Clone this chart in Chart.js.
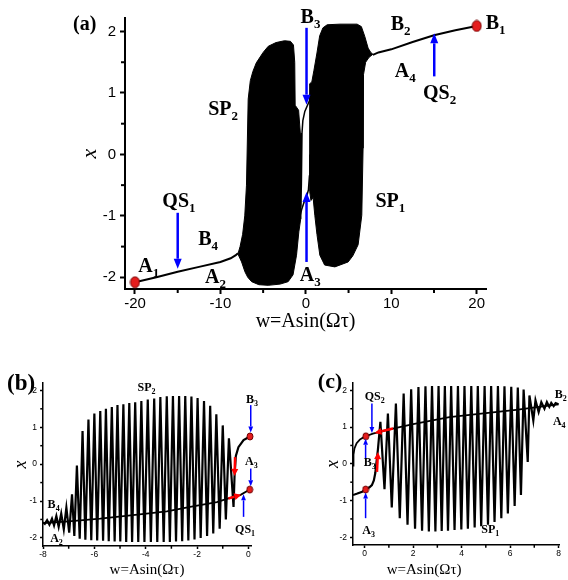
<!DOCTYPE html>
<html><head><meta charset="utf-8">
<script src="https://cdn.jsdelivr.net/npm/chart.js@4.4.1/dist/chart.umd.min.js"></script>
<style>
html,body{margin:0;padding:0;background:#fff;width:568px;height:580px;overflow:hidden}
canvas{position:absolute}
#ca{left:0;top:0}
#cb{left:0;top:340px}
#cc{left:284px;top:340px}
</style></head><body>
<canvas id="ca" width="568" height="340"></canvas>
<canvas id="cb" width="284" height="240"></canvas>
<canvas id="cc" width="284" height="240"></canvas>
<script>
// ---- panel (a): full sweep, w in [-20,20]
const aLowX=[-20,-17.5,-15,-12.5,-10,-8.8,-8.2,-7.95];
const aLowY=[-2.08,-2.0,-1.91,-1.83,-1.75,-1.69,-1.64,-1.61];
const aHighX=[7.85,8.5,10,12.5,15,17.5,20];
const aHighY=[1.62,1.66,1.71,1.83,1.94,2.02,2.09];
const aBackX=[0.74,0.47,-0.12,-0.35,-0.45,-0.5,-0.55,-0.6];
const aBackY=[1.16,0.89,0.70,0.55,0.35,0.0,-0.5,-0.85];
const aFwdX=[-0.85,-0.5,-0.12,0.1,0.3,0.42,0.48];
const aFwdY=[-1.1,-0.9,-0.74,-0.68,-0.58,-0.35,0.0];
// envelopes of the dense oscillation bands SP2 / SP1 (outline)
const sp2X=[-7.95,-7.7,-7.4,-7.15,-6.95,-6.75,-6.5,-6.2,-5.8,-5.0,-4.4,-3.5,-2.5,-1.8,-1.45,-1.3,-1.25,-0.85,-0.62,-0.6,-0.82,-1.09,-1.5,-2.07,-3.0,-4.41,-5.5,-6.35,-6.8,-7.13,-7.52,-7.95];
const sp2Y=[-1.62,-1.5,-1.3,-1.0,-0.5,0.9,1.2,1.35,1.49,1.66,1.76,1.82,1.85,1.84,1.78,1.5,0.8,0.72,0.3,-1.05,-1.26,-1.64,-1.96,-2.07,-2.11,-2.13,-2.12,-2.07,-2.0,-1.91,-1.75,-1.62];
const sp1X=[0.45,0.45,0.7,0.95,1.3,1.62,2.0,2.5,4.0,6.0,6.5,6.9,7.29,7.6,7.85,7.4,7.0,6.75,6.7,6.55,6.12,5.5,4.95,3.4,2.2,1.64,1.3,1.05,0.85,0.6,0.45];
const sp1Y=[-0.6,1.15,1.18,1.37,1.65,1.93,2.06,2.11,2.12,2.12,2.08,1.92,1.73,1.66,1.63,1.58,1.5,1.3,0.1,-0.99,-1.47,-1.65,-1.75,-1.83,-1.8,-1.64,-1.3,-0.99,-0.7,-0.75,-0.6];
const aEndX=[-20,20], aEndY=[-2.08,2.09];
const aTicksX=[-20,-10,0,10,20], aMinorX=[-15,-5,5,15];
const aTicksY=[-2,-1,0,1,2], aMinorY=[-1.5,-0.5,0.5,1.5];

// ---- panel (b): backward sweep from B3
const bCurveX=[0.06,-0.19,-0.39,-0.49,-0.54];
const bCurveY=[0.75,0.65,0.46,0.22,-0.30];
const bTroughX=[-0.58,-0.88,-1.12,-1.37,-1.61,-1.86,-2.10,-2.34,-2.58,-2.82,-3.06,-3.30,-3.55,-3.80,-4.05,-4.29,-4.53,-4.76,-4.99,-5.21,-5.44,-5.66,-5.89,-6.12,-6.35,-6.57,-6.78,-6.98,-7.19,-7.39,-7.57,-7.75,-7.93];
const bTroughY=[-1.16,-1.50,-1.75,-1.88,-1.95,-2.00,-2.04,-2.07,-2.09,-2.10,-2.11,-2.11,-2.11,-2.11,-2.11,-2.11,-2.11,-2.11,-2.10,-2.10,-2.09,-2.08,-2.07,-2.06,-2.05,-2.02,-1.95,-1.86,-1.77,-1.70,-1.66,-1.64,-1.62];
const bPeakX=[-0.76,-1.0,-1.25,-1.49,-1.73,-1.98,-2.22,-2.46,-2.70,-2.94,-3.18,-3.43,-3.67,-3.92,-4.17,-4.41,-4.64,-4.87,-5.10,-5.32,-5.55,-5.77,-6.0,-6.23,-6.46,-6.68,-6.87,-7.09,-7.29,-7.48,-7.65,-7.84];
const bPeakY=[0.70,1.05,1.35,1.58,1.71,1.79,1.83,1.85,1.85,1.85,1.84,1.82,1.78,1.75,1.71,1.68,1.66,1.62,1.60,1.55,1.50,1.44,1.37,1.21,0.90,-0.04,-0.82,-1.18,-1.34,-1.41,-1.48,-1.52];
const bEndX=[-8.0], bEndY=[-1.58];
const bLineX=[-8,-7,-5.77,-4.5,-3.18,-2.27,-1.23,-0.78,-0.32,0.05];
const bLineY=[-1.60,-1.55,-1.48,-1.38,-1.28,-1.16,-1.03,-0.93,-0.84,-0.69];
const bDotX=[0.06,0.05], bDotY=[0.75,-0.69];
const bTicksX=[-8,-6,-4,-2,0], bMinorX=[-7,-5,-3,-1];

// ---- panel (c): forward sweep from A3
const cCurveX=[-0.48,-0.3,-0.1,0.04,0.2,0.3,0.38,0.44,0.49,0.55];
const cCurveY=[-0.85,-0.81,-0.76,-0.70,-0.64,-0.58,-0.45,-0.25,0.05,0.40];
const cPeakX=[0.65,0.96,1.29,1.61,1.92,2.22,2.51,2.78,3.05,3.31,3.57,3.85,4.12,4.40,4.67,4.95,5.22,5.50,5.77,6.05,6.32,6.56,6.80,7.05,7.29,7.52,7.70,7.88];
const cPeakY=[1.14,1.37,1.64,1.91,2.03,2.09,2.11,2.12,2.12,2.12,2.12,2.12,2.12,2.12,2.12,2.12,2.12,2.12,2.11,2.10,2.08,2.02,1.86,1.73,1.68,1.68,1.66,1.65];
const cTroughX=[0.82,1.12,1.45,1.77,2.08,2.37,2.65,2.92,3.18,3.44,3.71,3.99,4.26,4.54,4.81,5.09,5.36,5.64,5.91,6.19,6.45,6.73,6.96,7.18,7.42,7.62,7.80];
const cTroughY=[-0.69,-1.19,-1.48,-1.66,-1.77,-1.82,-1.84,-1.84,-1.83,-1.82,-1.80,-1.79,-1.77,-1.73,-1.70,-1.66,-1.58,-1.48,-1.35,-1.15,-0.85,0.05,1.18,1.41,1.50,1.55,1.57];
const cEndX=[8.0], cEndY=[1.62];
const cLineX=[-0.48,-0.46,-0.42,-0.33,-0.2,-0.05,0.05,0.34,1.17,2.0,3.5,5.0,6.25,7.2,8.0];
const cLineY=[-0.05,0.25,0.42,0.56,0.66,0.72,0.75,0.82,0.96,1.08,1.27,1.38,1.47,1.55,1.62];
const cDotX=[0.05,0.04], cDotY=[0.75,-0.70];
const cTicksX=[0,2,4,6,8], cMinorX=[1,3,5,7];
const bcTicksY=[-2,-1,0,1,2], bcMinorY=[-1.5,-0.5,0.5,1.5];

// annotations: [x, y, text, subscript, size]
const labelsA=[[-27.25,2.03,'(a)','',20],[21.05,2.04,'B','1'],[9.94,2.02,'B','2'],[-0.62,2.14,'B','3'],[10.41,1.26,'A','4'],[13.72,0.90,'QS','2'],[-11.43,0.64,'SP','2'],[8.15,-0.86,'SP','1'],[-16.8,-0.85,'QS','1'],[-12.6,-1.47,'B','4'],[-19.61,-1.91,'A','1'],[-11.81,-2.09,'A','2'],[-0.70,-2.06,'A','3']];
const labelsB=[[-9.4,2.0,'(b)','',23],[-4.32,1.97,'SP','2'],[-0.09,1.66,'B','3'],[-0.13,-0.03,'A','3'],[-0.52,-1.87,'QS','1'],[-7.82,-1.2,'B','4'],[-7.72,-2.11,'A','2']];
const labelsC=[[-1.93,2.07,'(c)','',22],[0,1.75,'QS','2'],[-0.04,-0.06,'B','3'],[-0.1,-1.92,'A','3'],[7.84,1.79,'B','2'],[7.77,1.07,'A','4'],[4.81,-1.87,'SP','1']];
// arrows: [x1, y1, x2 (tip), y2 (tip), colour]
const arrowsA=[[-15,-0.95,-15,-1.86,'#0000ff'],[0.08,2.06,0.08,0.81,'#0000ff'],[0.08,-1.75,0.08,-0.61,'#0000ff'],[15.03,1.27,15.03,1.97,'#0000ff']];
const arrowsB=[[0.09,1.6,0.09,0.86,'#0000ff'],[0.09,-0.12,0.09,-0.6,'#0000ff'],[-0.19,-1.43,-0.19,-0.82,'#0000ff'],[-0.52,0.19,-0.54,-0.32,'#ff0000'],[-0.78,-0.93,-0.28,-0.83,'#ff0000']];
const arrowsC=[[0.3,1.64,0.3,0.84,'#0000ff'],[0.04,0.15,0.04,0.68,'#0000ff'],[0.04,-1.48,0.04,-0.78,'#0000ff'],[0.51,-0.22,0.55,0.32,'#ff0000'],[1.17,0.96,0.41,0.84,'#ff0000']];

const pts=(xs,ys)=>xs.map((x,i)=>({x:x,y:ys[i]}));
function interleave(a,b){
  let out=[];
  for(let i=0;i<Math.max(a.length,b.length);++i){ if(i<a.length) out.push(a[i]); if(i<b.length) out.push(b[i]); }
  return out;
}
function dotImg(w,h){
  let c=document.createElement('canvas'); c.width=w+2; c.height=h+2;
  let g=c.getContext('2d');
  g.beginPath(); g.ellipse((w+2)/2,(h+2)/2,w/2,h/2,0,0,Math.PI*2);
  g.fillStyle='#e51d1d'; g.fill(); g.lineWidth=1; g.strokeStyle='#700000'; g.stroke();
  return c;
}
function arrow(ctx,x1,y1,x2,y2,color,w,head,hw){
  const ang=Math.atan2(y2-y1,x2-x1);
  const bx=x2-head*Math.cos(ang), by=y2-head*Math.sin(ang);
  ctx.strokeStyle=color; ctx.lineWidth=w;
  ctx.beginPath(); ctx.moveTo(x1,y1); ctx.lineTo(bx,by); ctx.stroke();
  ctx.fillStyle=color; ctx.beginPath(); ctx.moveTo(x2,y2);
  ctx.lineTo(bx+hw*Math.sin(ang),by-hw*Math.cos(ang));
  ctx.lineTo(bx-hw*Math.sin(ang),by+hw*Math.cos(ang));
  ctx.closePath(); ctx.fill();
}

// minor ticks, arrows and text labels
const decor={
  id:'decor',
  afterDraw(chart,args,o){
    const ctx=chart.ctx, sx=chart.scales.x, sy=chart.scales.y, a=chart.chartArea;
    ctx.save();
    ctx.strokeStyle='#000'; ctx.lineWidth=o.tickWidth;
    o.minorX.forEach(v=>{ let p=sx.getPixelForValue(v); ctx.beginPath(); ctx.moveTo(p,a.bottom); ctx.lineTo(p,a.bottom+o.minorLen+o.axisWidth/2); ctx.stroke(); });
    o.minorY.forEach(v=>{ let p=sy.getPixelForValue(v); ctx.beginPath(); ctx.moveTo(a.left,p); ctx.lineTo(a.left-o.minorLen-o.axisWidth/2,p); ctx.stroke(); });
    o.arrows.forEach(r=>{
      let red=r[4]!='#0000ff';
      arrow(ctx,sx.getPixelForValue(r[0]),sy.getPixelForValue(r[1]),sx.getPixelForValue(r[2]),sy.getPixelForValue(r[3]),r[4],
        red?o.redWidth:o.arrowWidth,red?o.redHead:o.arrowHead,red?o.redHead/2:o.arrowHead*0.4);
    });
    ctx.fillStyle='#000'; ctx.textBaseline='alphabetic'; ctx.textAlign='left';
    o.labels.forEach(l=>{
      let px=sx.getPixelForValue(l[0]), py=sy.getPixelForValue(l[1]);
      ctx.font='bold '+(l[4]||o.size)+'px "Liberation Serif"';
      ctx.fillText(l[2],px,py);
      if(l[3]){ let w=ctx.measureText(l[2]).width; ctx.font='bold '+o.subSize+'px "Liberation Serif"'; ctx.fillText(l[3],px+w,py+o.subDy); }
    });
    ctx.restore();
  }
};

function xScale(min,max,ticks,h,fs,tl,tw,bw,title,tfs,tpad){
  return {type:'linear',min:min,max:max,
    afterBuildTicks:s=>{s.ticks=ticks.map(v=>({value:v}));},
    afterFit:s=>{s.height=h;},
    grid:{drawOnChartArea:false,tickLength:tl,tickWidth:tw,tickColor:'#000'},
    border:{color:'#000',width:bw},
    ticks:{color:'#000',font:{family:'Liberation Sans',size:fs},padding:1,maxRotation:0,autoSkip:false},
    title:{display:true,text:title,color:'#000',font:{family:'Liberation Serif',size:tfs,lineHeight:1},padding:{top:0,bottom:tpad}}};
}
function yScale(min,max,ticks,w,fs,tl,tw,bw,tfs,tpad,lpad){
  return {type:'linear',min:min,max:max,
    afterBuildTicks:s=>{s.ticks=ticks.map(v=>({value:v}));},
    afterFit:s=>{s.width=w;},
    grid:{drawOnChartArea:false,tickLength:tl,tickWidth:tw,tickColor:'#000'},
    border:{color:'#000',width:bw},
    ticks:{color:'#000',font:{family:'Liberation Sans',size:fs},padding:lpad,autoSkip:false},
    title:{display:true,text:'x',color:'#000',font:{family:'Liberation Serif',style:'italic',size:tfs,lineHeight:1},padding:{top:tpad,bottom:0}}};
}
const line=(data,w,order)=>({data:data,borderColor:'#000',borderWidth:w,pointRadius:0,fill:false,tension:0,order:order});
const dots=(data,img)=>({data:data,showLine:false,pointStyle:img,pointRadius:5,clip:false,order:0});

Chart.defaults.animation=false;

new Chart(document.getElementById('ca'),{
  type:'line',
  data:{datasets:[
    dots(pts(aEndX,aEndY),dotImg(9,11)),
    line(pts(aLowX,aLowY),2,1),
    line(pts(aHighX,aHighY),2,1),
    line(pts(aBackX,aBackY),1.5,1),
    line(pts(aFwdX,aFwdY),1.5,1),
    {data:pts(sp2X,sp2Y),borderColor:'#000',backgroundColor:'#000',borderWidth:1,pointRadius:0,fill:'shape',tension:0,order:2},
    {data:pts(sp1X,sp1Y),borderColor:'#000',backgroundColor:'#000',borderWidth:1,pointRadius:0,fill:'shape',tension:0,order:2}
  ]},
  options:{responsive:false,
    layout:{padding:{left:0,right:82,top:18,bottom:0}},
    scales:{x:xScale(-21.17,21.09,aTicksX,51,15,5,2,2,'w=Asin(\u03a9\u03c4)',20,8),
            y:yScale(-2.19,2.22,aTicksY,125,15,5,2,2,22,79,4)},
    plugins:{legend:{display:false},tooltip:{enabled:false},
      decor:{minorX:aMinorX,minorY:aMinorY,minorLen:3,tickWidth:2,axisWidth:2,arrows:arrowsA,arrowWidth:2.5,arrowHead:10,redWidth:2.5,redHead:8,labels:labelsA,size:20,subSize:13,subDy:5}}
  },
  plugins:[decor]
});

new Chart(document.getElementById('cb'),{
  type:'line',
  data:{datasets:[
    dots(pts(bDotX,bDotY),dotImg(6,7)),
    line(pts(bLineX,bLineY),1.8,1),
    line(pts(bCurveX,bCurveY).concat(interleave(pts(bTroughX,bTroughY),pts(bPeakX,bPeakY)),pts(bEndX,bEndY)),2.2,2)
  ]},
  options:{responsive:false,
    layout:{padding:{left:0,right:33,top:43,bottom:0}},
    scales:{x:xScale(-8,0.1,bTicksX,34,8.5,3,1.5,1.5,'w=Asin(\u03a9\u03c4)',15,2.5),
            y:yScale(-2.22,2.2,bcTicksY,43,8.5,3,1.5,1.5,18,12.7,3)},
    plugins:{legend:{display:false},tooltip:{enabled:false},
      decor:{minorX:bMinorX,minorY:bcMinorY,minorLen:2,tickWidth:1.5,axisWidth:1.5,arrows:arrowsB,arrowWidth:1.5,arrowHead:6,redWidth:2.5,redHead:7,labels:labelsB,size:12,subSize:8,subDy:3}}
  },
  plugins:[decor]
});

new Chart(document.getElementById('cc'),{
  type:'line',
  data:{datasets:[
    dots(pts(cDotX,cDotY),dotImg(6,7)),
    line(pts(cLineX,cLineY),1.8,1),
    line(pts(cCurveX,cCurveY).concat(interleave(pts(cPeakX,cPeakY),pts(cTroughX,cTroughY)),pts(cEndX,cEndY)),2.2,2)
  ]},
  options:{responsive:false,
    layout:{padding:{left:0,right:9,top:43,bottom:0}},
    scales:{x:xScale(-0.48,8.02,cTicksX,35,8.5,3,1.5,1.5,'w=Asin(\u03a9\u03c4)                 ',15,2.5),
            y:yScale(-2.21,2.2,bcTicksY,69,8.5,3,1.5,1.5,18,40,3)},
    plugins:{legend:{display:false},tooltip:{enabled:false},
      decor:{minorX:cMinorX,minorY:bcMinorY,minorLen:2,tickWidth:1.5,axisWidth:1.5,arrows:arrowsC,arrowWidth:1.5,arrowHead:6,redWidth:2.5,redHead:7,labels:labelsC,size:12,subSize:8,subDy:3}}
  },
  plugins:[decor]
});
</script></body></html>
